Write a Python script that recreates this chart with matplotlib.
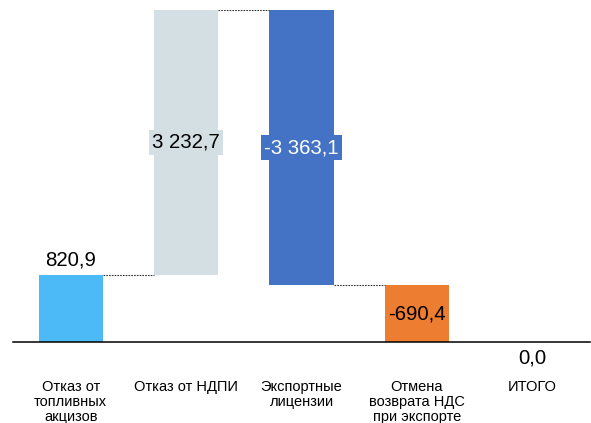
import numpy as np
import matplotlib
matplotlib.use("Agg")
import matplotlib.pyplot as plt

plt.rcParams["font.family"] = ["Liberation Sans", "DejaVu Sans"]

categories = ["Отказ от\nтопливных\nакцизов", "Отказ от НДПИ", "Экспортные\nлицензии",
              "Отмена\nвозврата НДС\nпри экспорте", "ИТОГО"]
changes = [820.9, 3232.7, -3363.1, -690.4]
total = 0.0

colors = ["#4BBAF7", "#D4DFE4", "#4472C4", "#ED7D31"]
label_colors = ["black", "black", "white", "black"]


def fmt(v):
    return f"{v:,.1f}".replace(",", " ").replace(".", ",")


ends = np.cumsum(changes)
starts = ends - np.array(changes)
bottoms = np.minimum(starts, ends)
heights = np.abs(changes)

fig = plt.figure(figsize=(5.91, 4.23), dpi=100)
ax = fig.add_axes([13 / 591, (423 - 342) / 423, 577 / 591, 332 / 423])

x = np.arange(len(categories))
width = 0.555
ax.bar(x[:4], heights, width, bottom=bottoms, color=colors)

# connectors
for i in range(3):
    ax.plot([x[i] + width / 2, x[i + 1] - width / 2], [ends[i], ends[i]],
            ls=(0, (1.5, 1)), lw=0.8, color="#333333")

# value labels
ax.annotate(fmt(changes[0]), (x[0], ends[0]), xytext=(0, 4), textcoords="offset points",
            ha="center", va="bottom", fontsize=14.7)
for i in range(1, 4):
    mid = bottoms[i] + heights[i] / 2
    ax.text(x[i], mid, fmt(changes[i]), ha="center", va="center", fontsize=14.7,
            color=label_colors[i],
            bbox=dict(boxstyle="square,pad=0.15", fc=colors[i], ec="none"))
ax.annotate(fmt(total), (x[4], 0), xytext=(0, -5), textcoords="offset points",
            ha="center", va="top", fontsize=14.7)

# category labels
for xi, lab in zip(x, categories):
    ax.annotate(lab, (xi, 0), xytext=(0, -27), textcoords="offset points",
                ha="center", va="top", fontsize=10.5, linespacing=1.1)

ax.set_xlim(-0.5, 4.5)
ax.set_ylim(0, ends[1])
for s in ["top", "right", "left"]:
    ax.spines[s].set_visible(False)
ax.spines["bottom"].set_linewidth(1.1)
ax.set_xticks([])
ax.set_yticks([])

fig.savefig("out.png", dpi=100)
